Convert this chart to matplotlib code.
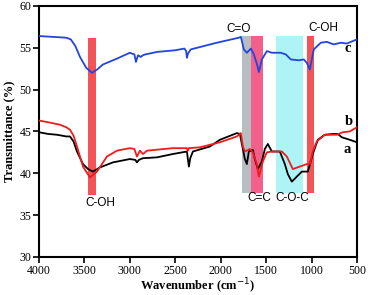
import numpy as np
import matplotlib.pyplot as plt

# FTIR spectra (wavenumber cm-1, transmittance %)
wn_a = [4000, 3900, 3800, 3700, 3659, 3620, 3582, 3516, 3460, 3406, 3329, 3186, 3000,
        2940, 2922, 2900, 2856, 2702, 2526, 2372, 2360, 2350, 2335, 2306, 2119, 2009,
        1822, 1789, 1756, 1734, 1712, 1690, 1646, 1624, 1591, 1547, 1514, 1481, 1437,
        1349, 1294, 1261, 1217, 1162, 1107, 1041, 986, 931, 854, 766, 711, 667, 579, 500]
ta = [44.9, 44.7, 44.6, 44.4, 44.4, 43.8, 42.6, 41.1, 40.5, 40.2, 40.7, 41.3, 41.7,
      41.6, 41.3, 41.6, 41.8, 41.9, 42.3, 42.6, 41.6, 40.8, 41.8, 42.6, 43.2, 44.0,
      44.8, 44.7, 42.9, 41.7, 41.1, 42.6, 42.8, 41.7, 40.5, 41.4, 42.9, 43.5, 42.6,
      42.6, 41.1, 39.9, 39.0, 39.6, 40.2, 40.2, 42.3, 44.0, 44.6, 44.7, 44.7, 44.3, 44.0, 43.7]

wn_b = [4000, 3900, 3769, 3700, 3659, 3620, 3582, 3516, 3439, 3362, 3252, 3142, 3000,
        2950, 2922, 2889, 2856, 2812, 2526, 2372, 2361, 2350, 2229, 2009, 1822, 1778,
        1756, 1734, 1679, 1646, 1602, 1580, 1536, 1492, 1437, 1327, 1272, 1206, 1129,
        1052, 1019, 986, 942, 854, 722, 656, 579, 500]
tb = [46.3, 46.1, 45.8, 45.5, 45.2, 44.5, 43.2, 40.8, 39.5, 40.2, 42.0, 42.7, 43.0,
      42.9, 42.0, 42.7, 42.3, 42.7, 43.0, 43.0, 42.7, 43.0, 43.1, 43.7, 44.4, 44.8,
      43.2, 42.6, 42.9, 42.5, 41.1, 39.6, 41.4, 42.5, 42.6, 42.6, 42.0, 40.5, 40.8,
      41.1, 41.1, 42.6, 43.8, 44.6, 44.6, 44.9, 45.0, 45.5]

wn_c = [4000, 3850, 3700, 3650, 3600, 3549, 3480, 3417, 3360, 3296, 3142, 3000, 2950,
        2933, 2910, 2880, 2856, 2830, 2700, 2500, 2400, 2380, 2372, 2360, 2330, 2295,
        2042, 1800, 1778, 1745, 1712, 1668, 1635, 1600, 1580, 1547, 1492, 1437, 1338,
        1283, 1228, 1140, 1085, 1052, 1019, 975, 898, 832, 755, 678, 612, 500]
tc = [56.4, 56.3, 56.2, 56.0, 55.2, 53.9, 52.6, 52.0, 52.4, 53.0, 53.7, 54.4, 54.2,
      53.3, 54.1, 53.9, 54.1, 54.2, 54.5, 54.7, 54.9, 54.6, 53.8, 54.3, 54.8, 54.9,
      55.6, 56.2, 56.3, 54.8, 54.4, 54.9, 54.2, 53.0, 52.1, 53.6, 54.6, 54.4, 54.4,
      54.2, 53.6, 53.5, 53.6, 53.2, 52.4, 54.8, 55.6, 55.7, 55.4, 55.6, 55.5, 56.0]

# highlighted absorption bands: (high wn, low wn, bottom, top, colour)
bands = [(3460, 3375, 37.4, 56.2, '#f25458'),
         (1768, 1670, 37.7, 56.4, '#b7bec2'),
         (1670, 1538, 37.7, 56.4, '#f2608a'),
         (1395, 1095, 37.7, 56.4, '#aef4f6'),
         (1050, 977, 37.7, 56.4, '#f25458')]

band_labels = ['C-OH', 'C=O', 'C=C', 'C-O-C', 'C-OH']
label_x = [3330, 1800, 1580, 1215, 875]
label_y = [36.5, 57.2, 37.0, 37.0, 57.4]

fig = plt.figure(figsize=(3.68, 2.95), dpi=100)
ax = fig.add_axes([0.106, 0.129, 0.864, 0.851])

for hi, lo, y0, y1, col in bands:
    ax.fill_between([lo, hi], y0, y1, color=col, lw=0, zorder=1)

ax.plot(wn_a, ta, color='black', lw=1.3, zorder=3)
ax.plot(wn_b, tb, color='#ee1c1c', lw=1.3, zorder=3)
ax.plot(wn_c, tc, color='#2244dd', lw=1.3, zorder=3)

for txt, x, y in zip(band_labels, label_x, label_y):
    ax.text(x, y, txt, ha='center', va='center', fontsize=8.5,
            family='Liberation Sans', zorder=4)

serif = 'Liberation Serif'
ax.text(600, 54.9, 'c', fontsize=10.5, fontweight='bold', family=serif, ha='center', va='center')
ax.text(590, 46.2, 'b', fontsize=10.5, fontweight='bold', family=serif, ha='center', va='center')
ax.text(610, 42.8, 'a', fontsize=10.5, fontweight='bold', family=serif, ha='center', va='center')

ax.set_xlim(4000, 500)
ax.set_ylim(30, 60)
ax.set_xticks(np.arange(4000, 499, -500))
ax.set_yticks(np.arange(30, 61, 5))
ax.tick_params(direction='out', length=4, width=1.2, labelsize=8.5, pad=1.5)
for lab in ax.get_xticklabels() + ax.get_yticklabels():
    lab.set_family(serif)
for sp in ax.spines.values():
    sp.set_linewidth(1.5)

ax.set_xlabel('Wavenumber (cm$^{-1}$)', fontsize=9, fontweight='bold', family=serif, labelpad=0)
ax.set_ylabel('Transmittance (%)', fontsize=9, fontweight='bold', family=serif, labelpad=3)

fig.savefig('out.png', dpi=100)
